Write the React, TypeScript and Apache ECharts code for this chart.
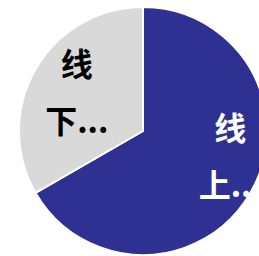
import React, { useEffect, useRef } from "react";
import * as echarts from "echarts";

const categories: string[] = ["线上渠道", "线下渠道"];
const values: number[] = [66.7, 33.3];
const colors: string[] = ["#2e3192", "#d9d9d9"];
const labelColors: string[] = ["#ffffff", "#000000"];
const labelShift: number[][] = [
  [31, -9],
  [-10, -8],
];

export default function App() {
  const ref = useRef<HTMLDivElement>(null);
  useEffect(() => {
    if (!ref.current) return;
    const chart = echarts.init(ref.current, null, { renderer: "svg" });
    chart.setOption({
      animation: false,
      backgroundColor: "#ffffff",
      series: [
        {
          type: "pie",
          center: [143, 131],
          radius: [0, 124],
          startAngle: 90,
          clockwise: true,
          data: categories.map((name, i) => ({
            name,
            value: values[i],
            itemStyle: { color: colors[i] },
            label: { color: labelColors[i] },
          })),
          itemStyle: { borderColor: "#ffffff", borderWidth: 2 },
          label: {
            show: true,
            position: "inside",
            fontSize: 32,
            lineHeight: 57,
            fontWeight: "bold",
            fontFamily: "'Noto Sans CJK SC', sans-serif",
            formatter: (p: any) => p.name[0] + "\n" + p.name[1] + "...",
          },
          labelLine: { show: false },
          labelLayout: (p: any) => ({
            dx: labelShift[p.dataIndex][0],
            dy: labelShift[p.dataIndex][1],
          }),
          emphasis: { disabled: true },
        },
      ],
    });
    return () => chart.dispose();
  }, []);
  return (
    <div
      ref={ref}
      style={{ position: "absolute", left: 0, top: 0, width: 259, height: 256 }}
    />
  );
}
